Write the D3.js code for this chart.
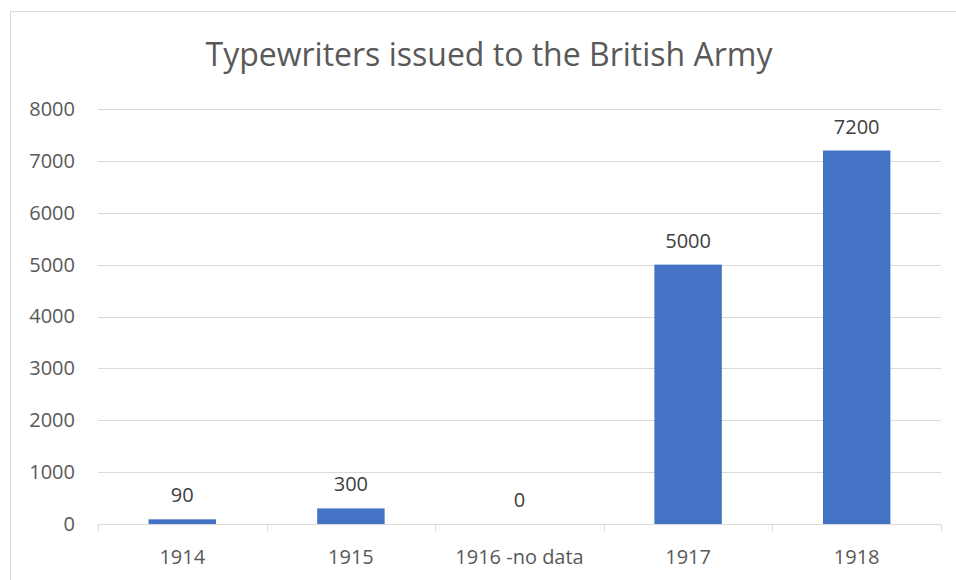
<!DOCTYPE html>
<html>
<head>
<meta charset="utf-8">
<script src="https://cdn.jsdelivr.net/npm/d3@7/dist/d3.min.js"></script>
<style>
  html, body { margin: 0; padding: 0; background: #fff; }
  svg { display: block; font-family: "Open Sans", "Noto Sans", sans-serif; }
</style>
</head>
<body>
<svg id="chart" width="956" height="580"></svg>
<script>
// Chart data
const chartTitle = "Typewriters issued to the British Army";
const categories = ["1914", "1915", "1916 -no data", "1917", "1918"];
const values = [90, 300, 0, 5000, 7200];
const yTicks = [0, 1000, 2000, 3000, 4000, 5000, 6000, 7000, 8000];

const W = 956, H = 580;
const margin = { left: 98, right: 15, top: 109, bottom: 56 };
const textColor = "#595959";
const gridColor = "#d9d9d9";
const barColor = "#4472c4";

const svg = d3.select("#chart");

// Chart frame
svg.append("rect")
  .attr("x", 10.5).attr("y", 11.5)
  .attr("width", W).attr("height", H)
  .attr("fill", "none").attr("stroke", gridColor).attr("stroke-width", 1);

// Title
svg.append("text")
  .attr("x", 489).attr("y", 66)
  .attr("text-anchor", "middle")
  .attr("fill", textColor)
  .attr("font-size", 32)
  .text(chartTitle);

const x = d3.scaleBand()
  .domain(categories)
  .range([margin.left, W - margin.right])
  .paddingInner(0.6).paddingOuter(0.3);

const y = d3.scaleLinear()
  .domain([0, 8000])
  .range([H - margin.bottom, margin.top]);

// Horizontal gridlines
svg.append("g")
  .selectAll("line")
  .data(yTicks.filter(d => d > 0))
  .join("line")
  .attr("x1", margin.left).attr("x2", W - margin.right)
  .attr("y1", d => Math.round(y(d)) + 0.5).attr("y2", d => Math.round(y(d)) + 0.5)
  .attr("stroke", gridColor).attr("stroke-width", 1);

// Y axis labels
const yAxis = d3.axisLeft(y).tickValues(yTicks).tickFormat(d3.format("d")).tickSize(0).tickPadding(23);
const gy = svg.append("g")
  .attr("transform", `translate(${margin.left},0)`)
  .call(yAxis);
gy.select(".domain").remove();
gy.selectAll("text")
  .attr("fill", textColor)
  .attr("font-size", 20)
  .attr("font-family", "Open Sans, Noto Sans, sans-serif");

// Bars
svg.append("g")
  .selectAll("rect")
  .data(values)
  .join("rect")
  .attr("x", (d, i) => x(categories[i]))
  .attr("y", d => y(d))
  .attr("width", x.bandwidth())
  .attr("height", d => y(0) - y(d))
  .attr("fill", barColor);

// X axis: baseline with ticks between categories
const baseY = Math.round(y(0)) + 0.5;
const bounds = d3.range(categories.length + 1).map(i => margin.left + i * (W - margin.right - margin.left) / categories.length);
svg.append("line")
  .attr("x1", margin.left).attr("x2", W - margin.right)
  .attr("y1", baseY).attr("y2", baseY)
  .attr("stroke", gridColor).attr("stroke-width", 1);
svg.append("g")
  .selectAll("line")
  .data(bounds)
  .join("line")
  .attr("x1", d => Math.round(d) + 0.5).attr("x2", d => Math.round(d) + 0.5)
  .attr("y1", baseY).attr("y2", baseY + 7)
  .attr("stroke", gridColor).attr("stroke-width", 1);

// Category labels
svg.append("g")
  .selectAll("text")
  .data(categories)
  .join("text")
  .attr("x", d => x(d) + x.bandwidth() / 2)
  .attr("y", H - 16)
  .attr("text-anchor", "middle")
  .attr("fill", textColor)
  .attr("font-size", 20)
  .text(d => d);

// Value labels
svg.append("g")
  .selectAll("text")
  .data(values)
  .join("text")
  .attr("x", (d, i) => x(categories[i]) + x.bandwidth() / 2)
  .attr("y", d => y(d) - 17)
  .attr("text-anchor", "middle")
  .attr("fill", "#404040")
  .attr("font-size", 20)
  .text(d => d);
</script>
</body>
</html>
